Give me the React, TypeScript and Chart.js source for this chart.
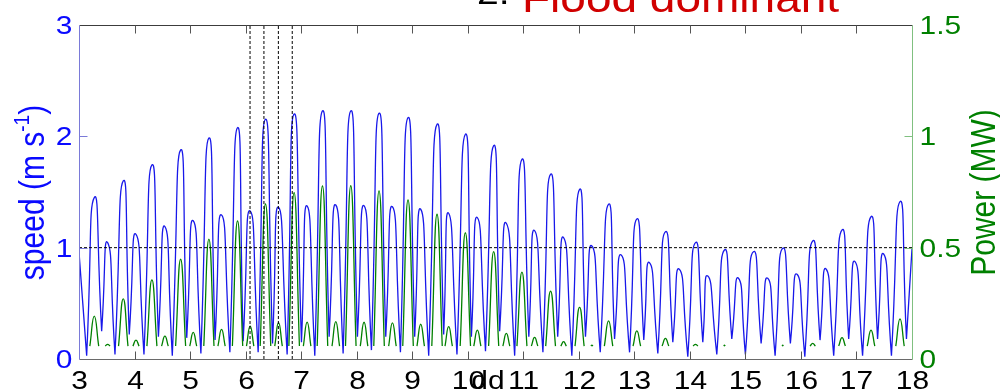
import React, { useEffect, useRef } from "react";
import { Chart, registerables } from "chart.js";

Chart.register(...registerables);

// ---- data ----
// tidal current speed: alternating extrema (minima / flood peaks / ebb peaks), days vs m/s
const speedTimes = [
  3.0, 3.138, 3.275, 3.408, 3.516, 3.648, 3.797, 3.905, 4.026, 4.17,
  4.313, 4.43, 4.547, 4.68, 4.83, 4.94, 5.057, 5.195, 5.339, 5.45,
  5.567, 5.717, 5.855, 5.956, 6.082, 6.226, 6.358, 6.485, 6.593, 6.748,
  6.874, 7.006, 7.108, 7.246, 7.384, 7.504, 7.624, 7.756, 7.894, 8.014,
  8.133, 8.266, 8.403, 8.524, 8.644, 8.788, 8.925, 9.045, 9.153, 9.297,
  9.447, 9.567, 9.657, 9.806, 9.957, 10.066, 10.173, 10.32, 10.467, 10.575,
  10.695, 10.845, 10.976, 11.1, 11.204, 11.354, 11.492, 11.62, 11.726, 11.875,
  12.014, 12.12, 12.236, 12.386, 12.536, 12.644, 12.764, 12.914, 13.045, 13.17,
  13.273, 13.423, 13.56, 13.693, 13.81, 13.963, 14.101, 14.233, 14.323, 14.485,
  14.623, 14.755, 14.875, 15.0, 15.145, 15.283, 15.402, 15.535, 15.672, 15.81,
  15.93, 16.07, 16.212, 16.344, 16.452, 16.59, 16.74, 16.86, 16.974, 17.11,
  17.262, 17.38, 17.489, 17.63, 17.784, 17.9, 18.0,
];
const speedValues = [
  0.96, 0.03, 1.45, 0.25, 1.045, 0.04, 1.6, 0.22, 1.12, 0.04,
  1.743, 0.2, 1.19, 0.03, 1.877, 0.19, 1.242, 0.05, 1.985, 0.17,
  1.293, 0.06, 2.078, 0.16, 1.33, 0.06, 2.153, 0.14, 1.362, 0.04,
  2.2, 0.15, 1.374, 0.03, 2.228, 0.2, 1.383, 0.05, 2.228, 0.2,
  1.377, 0.08, 2.207, 0.2, 1.368, 0.06, 2.168, 0.2, 1.345, 0.03,
  2.108, 0.22, 1.309, 0.04, 2.018, 0.2, 1.27, 0.07, 1.916, 0.25,
  1.219, 0.03, 1.794, 0.2, 1.153, 0.06, 1.659, 0.2, 1.09, 0.03,
  1.523, 0.2, 1.015, 0.06, 1.39, 0.18, 0.934, 0.06, 1.258, 0.17,
  0.865, 0.05, 1.143, 0.15, 0.806, 0.02, 1.045, 0.15, 0.746, 0.04,
  0.979, 0.18, 0.725, 0.04, 0.964, 0.14, 0.725, 0.03, 0.994, 0.14,
  0.761, 0.02, 1.06, 0.17, 0.808, 0.03, 1.159, 0.18, 0.874, 0.03,
  1.278, 0.18, 0.943, 0.03, 1.413, 0.18, 0.99,
];

// power output pulses (MW): start, peak time, peak value, end
const powerStart = [
  3.195, 3.471, 3.712, 3.971, 4.223, 4.487, 4.74, 4.995, 5.247, 5.502,
  5.762, 6.016, 6.263, 6.525, 6.779, 7.04, 7.289, 7.556, 7.799, 8.065,
  8.308, 8.576, 8.83, 9.086, 9.353, 9.591, 9.864, 10.109, 10.376, 10.633,
  10.886, 11.146, 11.404, 11.676, 11.932, 12.216, 12.46, 12.977, 13.5, 14.056,
  14.611, 15.662, 16.164, 16.68, 17.194, 17.708,
];
const powerPeakTime = [
  3.275, 3.516, 3.797, 4.026, 4.313, 4.547, 4.83, 5.057, 5.339, 5.567,
  5.855, 6.082, 6.358, 6.593, 6.874, 7.108, 7.384, 7.624, 7.894, 8.133,
  8.403, 8.644, 8.925, 9.153, 9.447, 9.657, 9.957, 10.173, 10.467, 10.695,
  10.976, 11.204, 11.492, 11.726, 12.014, 12.236, 12.536, 13.045, 13.56, 14.101,
  14.623, 15.672, 16.212, 16.74, 17.262, 17.784,
];
const powerPeak = [
  0.193, 0.066, 0.27, 0.085, 0.355, 0.103, 0.448, 0.12, 0.538, 0.133,
  0.62, 0.148, 0.696, 0.163, 0.747, 0.166, 0.777, 0.168, 0.778, 0.165,
  0.755, 0.162, 0.714, 0.156, 0.65, 0.145, 0.567, 0.13, 0.482, 0.115,
  0.39, 0.097, 0.305, 0.078, 0.232, 0.062, 0.171, 0.126, 0.093, 0.066,
  0.062, 0.062, 0.07, 0.096, 0.13, 0.18,
];
const powerEnd = [
  3.355, 3.561, 3.882, 4.081, 4.403, 4.607, 4.92, 5.119, 5.431, 5.632,
  5.948, 6.148, 6.453, 6.661, 6.969, 7.176, 7.479, 7.692, 7.989, 8.201,
  8.498, 8.712, 9.02, 9.22, 9.541, 9.723, 10.05, 10.237, 10.558, 10.757,
  11.066, 11.262, 11.58, 11.776, 12.096, 12.256, 12.612, 13.113, 13.62, 14.146,
  14.635, 15.682, 16.26, 16.8, 17.33, 17.86,
];
const powerCutIn = 0.058;

const guideDays = [6.08, 6.33, 6.59, 6.84];
const speedRefLine = [1, 1];
const refLineDays = [3, 18];

const dayTicks = [3, 4, 5, 6, 7, 8, 9, 10, 11, 12, 13, 14, 15, 16, 17, 18];
const dayTickLabels = ["3", "4", "5", "6", "7", "8", "9", "10", "11", "12", "13", "14", "15", "16", "17", "18"];
const speedTicks = [0, 1, 2, 3];
const speedTickLabels = ["0", "1", "2", "3"];
const powerTicks = [0, 0.5, 1, 1.5];
const powerTickLabels = ["0", "0.5", "1", "1.5"];

const speedTitle = ["speed (m s", "-1", ")"];
const powerTitle = "Power (MW)";
const xTitle = "dd";
const annotationPrefix = "2.";
const annotationText = "Flood dominant";

// ---- styling ----
const FONT = '"Liberation Sans", Arial, Helvetica, sans-serif';
const BLUE = "#0a0aff";
const GREEN = "#008000";
const SX = 1.15;

function drawText(
  ctx: CanvasRenderingContext2D,
  text: string,
  x: number,
  y: number,
  size: number,
  color: string,
  align: CanvasTextAlign,
  baseline: CanvasTextBaseline,
  rotate = 0,
  sx = SX
) {
  ctx.save();
  ctx.translate(x, y);
  ctx.scale(sx, 1);
  if (rotate) ctx.rotate(rotate);
  ctx.font = `${size}px ${FONT}`;
  ctx.fillStyle = color;
  ctx.textAlign = align;
  ctx.textBaseline = baseline;
  ctx.fillText(text, 0, 0);
  ctx.restore();
}

const matlabAxes = {
  id: "matlabAxes",
  afterDraw(chart: any) {
    const { ctx, chartArea: a, scales } = chart;
    const xs = scales.x;
    const ys = scales.y;
    const yp = scales.y1;
    const seg = (x1: number, y1: number, x2: number, y2: number, c: string) => {
      ctx.beginPath();
      ctx.strokeStyle = c;
      ctx.lineWidth = 1;
      ctx.moveTo(x1, y1);
      ctx.lineTo(x2, y2);
      ctx.stroke();
    };
    ctx.save();
    const L = Math.round(a.left) + 0.5;
    const R = Math.round(a.right) + 0.5;
    const T = Math.round(a.top) + 0.5;
    const B = Math.round(a.bottom) + 0.5;
    seg(L, T, R, T, "#3c3c3c");
    seg(L, B, R, B, "#6a6a6a");
    seg(L, T, L, B, "#7a7ad8");
    seg(R, T, R, B, "#80c080");
    const tl = 8;
    dayTicks.forEach((d, i) => {
      const px = Math.round(xs.getPixelForValue(d)) + 0.5;
      if (i > 0 && i < dayTicks.length - 1) {
        seg(px, B, px, B - tl, "#555");
        seg(px, T, px, T + tl, "#555");
      }
      drawText(ctx, dayTickLabels[i], px, 369, 26, "#000", "center", "top");
    });
    speedTicks.forEach((v, i) => {
      const py = Math.round(ys.getPixelForValue(v)) + 0.5;
      if (i > 0 && i < speedTicks.length - 1) seg(L, py, L + tl, py, "#7a7ad8");
      drawText(ctx, speedTickLabels[i], L - 7, py + 1, 26, BLUE, "right", "middle");
    });
    powerTicks.forEach((v, i) => {
      const py = Math.round(yp.getPixelForValue(v)) + 0.5;
      if (i > 0 && i < powerTicks.length - 1) seg(R, py, R - tl, py, "#80c080");
      drawText(ctx, powerTickLabels[i], R + 7, py + 1, 26, GREEN, "left", "middle");
    });

    // x title overlapping the tick labels
    drawText(ctx, xTitle, 488, 369, 26, "#000", "center", "top");

    // left title with superscript
    {
      const big = 30;
      const small = 19;
      ctx.save();
      ctx.font = `${big}px ${FONT}`;
      const w1 = ctx.measureText(speedTitle[0]).width;
      const w3 = ctx.measureText(speedTitle[2]).width;
      ctx.font = `${small}px ${FONT}`;
      const w2 = ctx.measureText(speedTitle[1]).width;
      ctx.restore();
      const total = w1 + w2 + w3;
      const cx = 44;
      const cy = (T + B) / 2;
      ctx.save();
      ctx.translate(cx, cy);
      ctx.scale(SX, 1);
      ctx.rotate(-Math.PI / 2);
      ctx.fillStyle = BLUE;
      ctx.textBaseline = "alphabetic";
      ctx.textAlign = "left";
      let x0 = -total / 2;
      ctx.font = `${big}px ${FONT}`;
      ctx.fillText(speedTitle[0], x0, 0);
      x0 += w1;
      ctx.font = `${small}px ${FONT}`;
      ctx.fillText(speedTitle[1], x0, -13);
      x0 += w2;
      ctx.font = `${big}px ${FONT}`;
      ctx.fillText(speedTitle[2], x0, 0);
      ctx.restore();
    }
    // right title
    drawText(ctx, powerTitle, 995, (T + B) / 2, 30, GREEN, "center", "alphabetic", -Math.PI / 2);

    // annotation cut by the top edge (the black label sits higher than the red one)
    drawText(ctx, annotationPrefix, 477, 4, 34, "#000", "left", "alphabetic");
    drawText(ctx, annotationText, 522, 12, 40, "#d00000", "left", "alphabetic");
    ctx.restore();
  },
};

export default function App() {
  const ref = useRef<HTMLCanvasElement | null>(null);

  useEffect(() => {
    if (!ref.current) return;
    const n = speedTimes.length;
    const speedPoints: { x: number; y: number }[] = [];
    speedTimes.forEach((t, i) => {
      const v = speedValues[i];
      speedPoints.push({ x: t, y: v });
      const isMin = i > 0 && i < n - 1 && v < speedValues[i - 1] && v < speedValues[i + 1];
      if (isMin) speedPoints.push({ x: t, y: v }); // repeated vertex -> sharp slack-water cusp
    });

    const powerPoints: { x: number; y: number | null }[] = [];
    powerPeak.forEach((pk, i) => {
      powerPoints.push(
        { x: powerStart[i], y: powerCutIn },
        { x: powerPeakTime[i], y: pk },
        { x: powerEnd[i], y: powerCutIn },
        { x: powerEnd[i], y: null }
      );
    });

    const dashed = {
      borderColor: "#000",
      borderWidth: 1,
      borderDash: [3, 2],
      pointRadius: 0,
      tension: 0,
      yAxisID: "y",
    };

    const datasets: any[] = [
      ...guideDays.map((d) => ({
        ...dashed,
        data: [
          { x: d, y: speedTicks[0] },
          { x: d, y: speedTicks[speedTicks.length - 1] },
        ],
      })),
      {
        ...dashed,
        data: refLineDays.map((d, i) => ({ x: d, y: speedRefLine[i] })),
      },
      {
        label: "Power",
        data: powerPoints,
        yAxisID: "y1",
        borderColor: GREEN,
        borderWidth: 1.3,
        pointRadius: 0,
        tension: 0.5,
        spanGaps: false,
      },
      {
        label: "speed",
        data: speedPoints,
        yAxisID: "y",
        borderColor: "#1818ea",
        borderWidth: 1.3,
        pointRadius: 0,
        tension: 0.7,
      },
    ];

    const chart = new Chart(ref.current, {
      type: "line",
      data: { datasets },
      options: {
        animation: false,
        responsive: false,
        devicePixelRatio: 1,
        parsing: true,
        layout: { padding: { top: 25, left: 0, right: 0, bottom: 0 } },
        plugins: { legend: { display: false }, tooltip: { enabled: false } },
        scales: {
          x: {
            type: "linear",
            min: dayTicks[0],
            max: dayTicks[dayTicks.length - 1],
            ticks: { display: false },
            grid: { display: false },
            border: { display: false },
            afterFit: (s: any) => {
              s.height = 31;
            },
          },
          y: {
            type: "linear",
            position: "left",
            min: speedTicks[0],
            max: speedTicks[speedTicks.length - 1],
            ticks: { display: false },
            grid: { display: false },
            border: { display: false },
            afterFit: (s: any) => {
              s.width = 79;
            },
          },
          y1: {
            type: "linear",
            position: "right",
            min: powerTicks[0],
            max: powerTicks[powerTicks.length - 1],
            ticks: { display: false },
            grid: { display: false },
            border: { display: false },
            afterFit: (s: any) => {
              s.width = 88;
            },
          },
        },
      },
      plugins: [matlabAxes],
    });
    return () => chart.destroy();
  }, []);

  return (
    <div style={{ position: "absolute", left: 0, top: 0, width: 1000, height: 390, background: "#fff" }}>
      <canvas ref={ref} width={1000} height={390} style={{ display: "block", width: 1000, height: 390 }} />
    </div>
  );
}
